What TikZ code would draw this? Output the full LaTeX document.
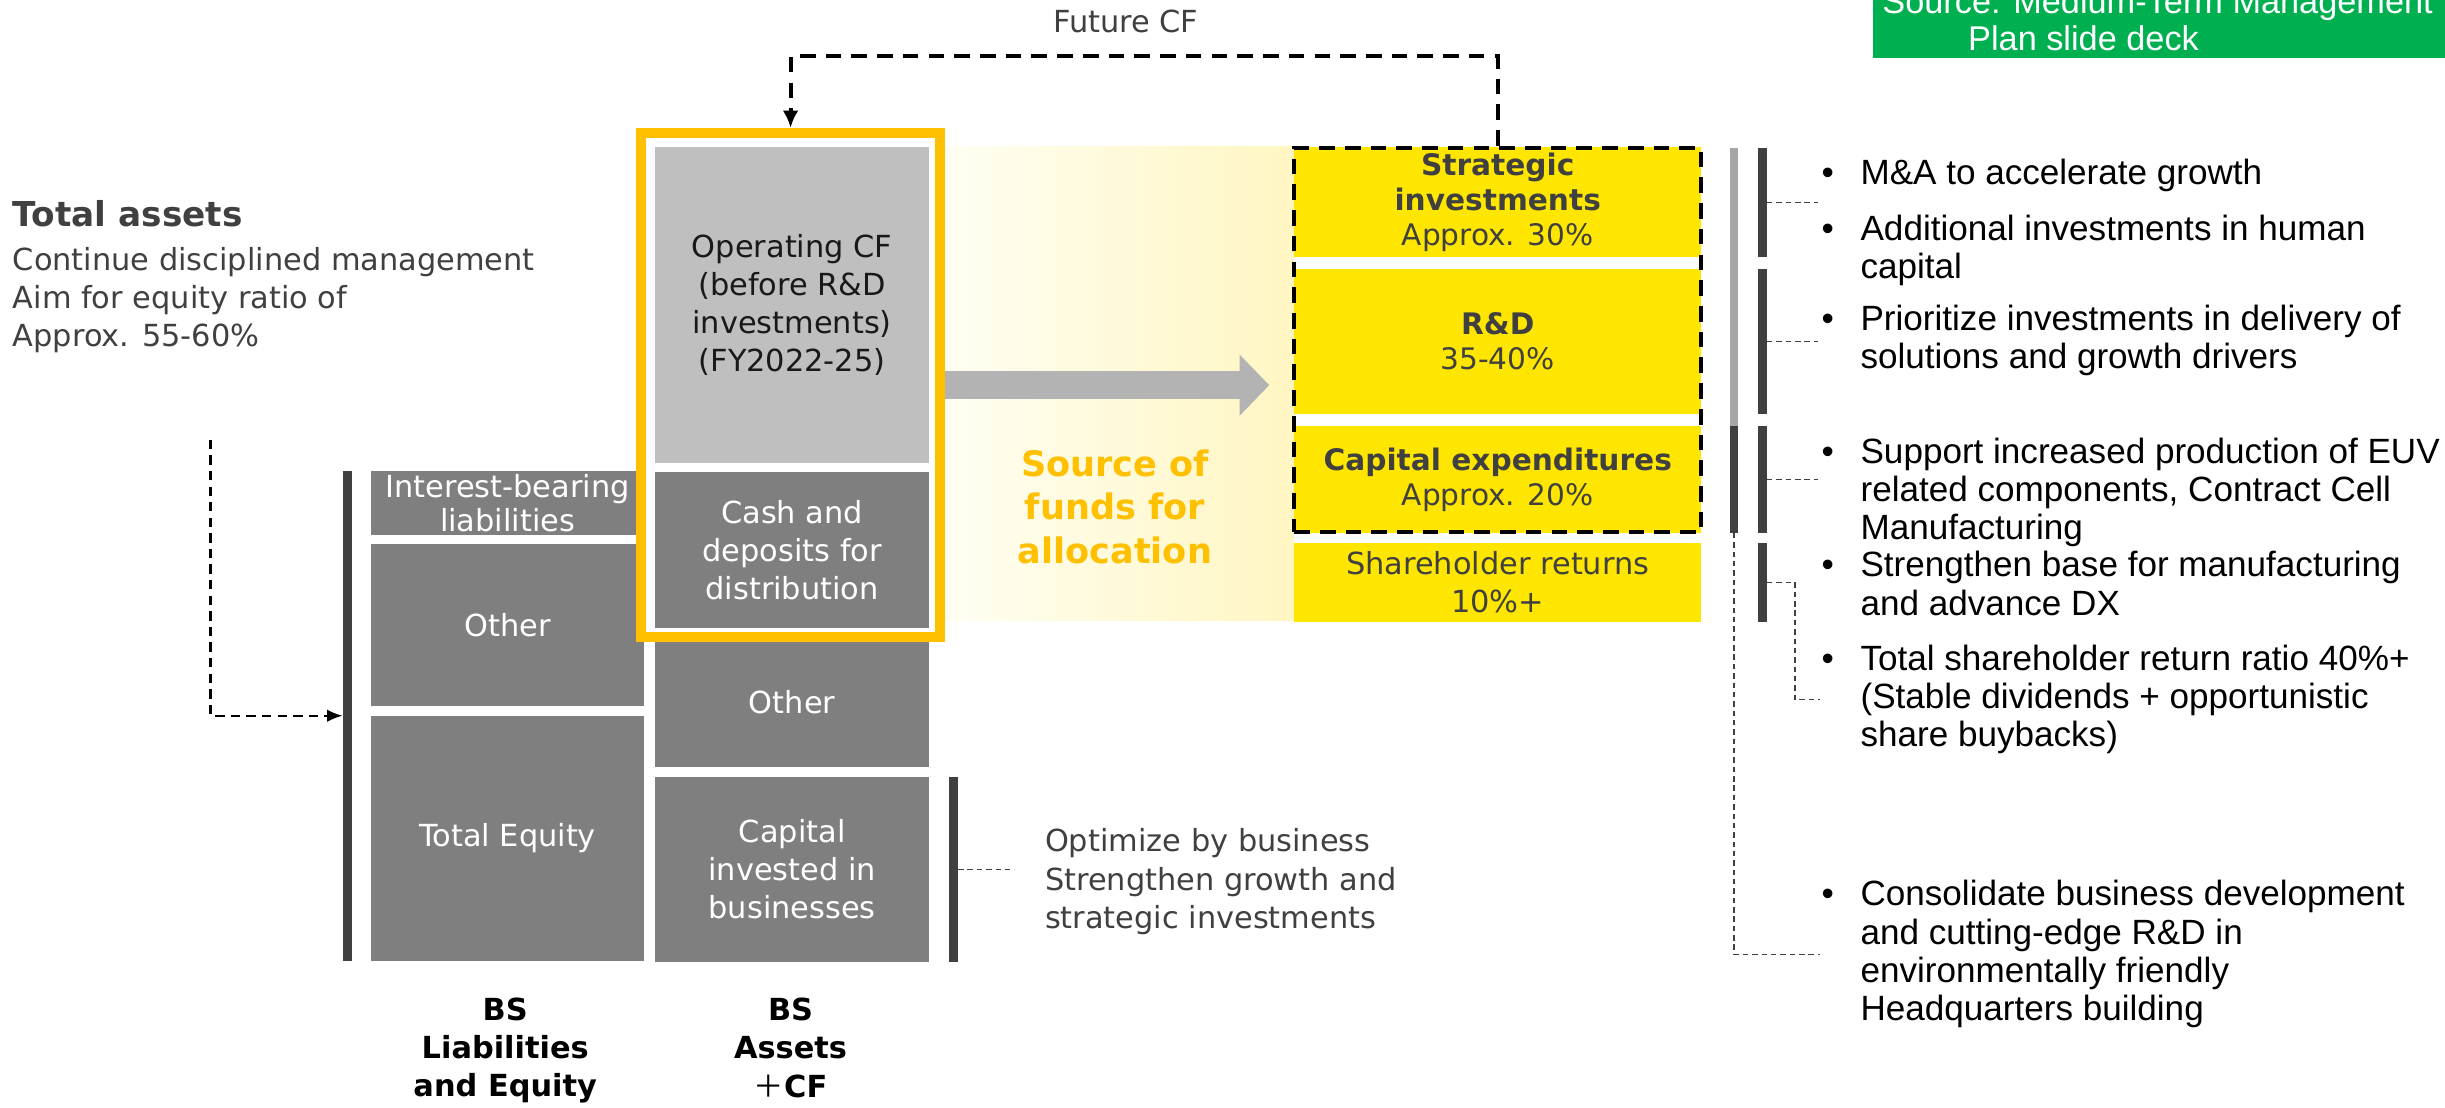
\documentclass[tikz,border=0pt]{standalone}
\usepackage{fontspec}
\setmainfont{DejaVu Sans}
\newfontfamily\narrowfont{Liberation Sans}
\newfontfamily\cjkfont{Noto Sans CJK JP}
\usepackage{xcolor}
\usepackage{tikz}
\usetikzlibrary{positioning,arrows.meta}

\definecolor{boxgray}{HTML}{7F7F7F}
\definecolor{cfgray}{HTML}{BFBFBF}
\definecolor{frameorange}{HTML}{FFC000}
\definecolor{allocyellow}{HTML}{FFE600}
\definecolor{bardark}{HTML}{404040}
\definecolor{barlight}{HTML}{A6A6A6}
\definecolor{arrowgray}{HTML}{B3B3B3}
\definecolor{srcgreen}{HTML}{00B050}
\definecolor{textgray}{HTML}{404040}
\definecolor{glowleft}{HTML}{FFFEF3}
\definecolor{glowright}{HTML}{FFF6C2}

\newcommand{\mainsize}{\fontsize{19.5}{24.5}\selectfont}
\newcommand{\yelsize}{\fontsize{19}{22.5}\selectfont}
\newcommand{\bulsize}{\narrowfont\fontsize{22.5}{24.5}\selectfont}
\newcommand{\bulmark}{\makebox[25pt][l]{\textbullet}}
\newcommand{\bulind}{\hspace*{25pt}}

\begin{document}
\begin{tikzpicture}[x=1pt, y=-1pt,
    graybox/.style={rectangle, fill=boxgray, text=white, inner sep=0pt,
                    minimum width=175pt, align=center, font=\mainsize},
    cfbox/.style={graybox, fill=cfgray, text=black!90},
    yelbox/.style={rectangle, fill=allocyellow, text=textgray, inner sep=0pt,
                   minimum width=261pt, align=center, font=\yelsize},
    vbar/.style={rectangle, fill=bardark, inner sep=0pt, minimum width=5.5pt},
    note/.style={anchor=north west, align=left, inner sep=0pt, text=textgray, font=\mainsize},
    bulitem/.style={anchor=north west, align=left, inner sep=0pt, font=\bulsize},
    lead/.style={draw=textgray, line width=0.9pt, dash pattern=on 3.5pt off 2.5pt},
    cfarr/.style={draw=black, line width=2.6pt, dash pattern=on 10pt off 6.5pt,
                  -{Latex[length=11pt,width=10pt]}},
    dasharr/.style={draw=black, line width=1.5pt, dash pattern=on 6pt off 4pt,
                    -{Latex[length=10pt,width=8pt]}},
    bigarr/.style={draw=arrowgray, line width=18pt, -{Triangle[length=19pt,width=38pt]}}
]
\useasboundingbox (0,0) rectangle (1568,710);
\clip (0,0) rectangle (1568,710);

% Source tag
\fill[srcgreen] (1201,-30) rectangle (1600,37);
\node[anchor=north west, align=left, inner sep=0pt, text=white,
      font=\narrowfont\fontsize{22}{24}\selectfont] (src) at (1207,-7.5)
      {Source: Medium-Term Management\\\hspace*{55pt}Plan slide deck};

% Glow behind the big arrow
\shade[left color=glowleft, right color=glowright] (606,94) rectangle (830,398);

% Total assets
\node[note, font=\bfseries\fontsize{22}{26}\selectfont] (ta) at (8,128.5) {Total assets};
\node[note] (tanote) at (8,158.3)
      {Continue disciplined management\\Aim for equity ratio of\\Approx. 55-60\%};

% BS liabilities and equity
\node[graybox, minimum height=41pt, font=\fontsize{19.5}{22}\selectfont] (ibl) at (325.5,322.5)
      {Interest-bearing\\liabilities};
\node[graybox, minimum height=104pt] (othl) at (325.5,401) {Other};
\node[graybox, minimum height=157pt] (teq) at (325.5,537.5) {Total Equity};
\node[vbar, minimum height=314pt] (lbar) at (222.75,459) {};
\coordinate (tastart) at (135,282);
\draw[dasharr] (tastart) |- (lbar.west);

% BS assets + CF
\node[graybox, minimum width=176pt, minimum height=83pt] (otha) at (508,450.5) {Other};
\node[graybox, minimum width=176pt, minimum height=119pt] (cap) at (508,557.5)
      {Capital\\invested in\\businesses};
\node[vbar, minimum height=119pt] (cbar) at (611.5,557.5) {};
\node[note] (opt) at (670,531.3)
      {Optimize by business\\Strengthen growth and\\strategic investments};
\draw[lead] (cbar.east) -- ++(36,0);

% Source of funds frame
\node[rectangle, draw=frameorange, line width=6.4pt, fill=white, inner sep=0pt,
      minimum width=191.6pt, minimum height=323.6pt] (frame) at (507,247) {};
\node[cfbox, minimum width=176pt, minimum height=203pt] (ocf) at (508,195.5)
      {Operating CF\\(before R\&D\\investments)\\(FY2022-25)};
\node[graybox, minimum width=176pt, minimum height=100pt] (cash) at (508,353)
      {Cash and\\deposits for\\distribution};
\node[align=center, text=frameorange, font=\bfseries\fontsize{22.5}{28}\selectfont] (sof)
      at (715,325) {Source of\\funds for\\allocation};

% Column captions
\node[align=center, font=\bfseries\mainsize] (bsl) at (324,673.5) {BS\\Liabilities\\and Equity};
\node[align=center, font=\bfseries\mainsize] (bsa) at (507,672) {BS\\Assets\\{\cjkfont\mdseries ＋}CF};

% Allocation
\node[yelbox, minimum height=70pt] (sti) at (960.5,129.5)
      {\textbf{Strategic}\\\textbf{investments}\\Approx. 30\%};
\node[yelbox, minimum height=93pt] (rnd) at (960.5,219) {\textbf{R\&D}\\35-40\%};
\node[yelbox, minimum height=68pt] (cpx) at (960.5,307.5) {\textbf{Capital expenditures}\\Approx. 20\%};
\node[yelbox, minimum height=51pt, font=\mainsize] (shr) at (960.5,373.5) {Shareholder returns\\10\%+};
\node[rectangle, draw=black, line width=2.6pt, dash pattern=on 10pt off 6.5pt, inner sep=0pt,
      minimum width=261pt, minimum height=246.5pt] (alloc) at (960.5,218) {};
\draw[bigarr, shorten >=14.7pt] (frame.east) -- (alloc.west |- frame.east);

% Future CF loop
\node[text=textgray, font=\mainsize, inner sep=0pt] (fcf) at (722,14) {Future CF};
\draw[cfarr] (alloc.north) -- ++(0,-57.5) -| (frame.north);

% Bars
\node[vbar, fill=barlight, minimum height=178pt] (gbar) at (1112,184) {};
\node[vbar, minimum height=68.5pt] (gbard) at (1112,307.25) {};
\node[vbar, minimum height=70pt] (b1) at (1130.25,130) {};
\node[vbar, minimum height=93pt] (b2) at (1130.25,219) {};
\node[vbar, minimum height=68pt] (b3) at (1130.25,307.5) {};
\node[vbar, minimum height=51pt] (b4) at (1130.25,373.5) {};

% Measures
\node[bulitem] (m1) at (1168,101.5) {\bulmark M\&A to accelerate growth};
\node[bulitem] (m2) at (1168,137.5) {\bulmark Additional investments in human\\\bulind capital};
\node[bulitem] (m3) at (1168,195.5)
      {\bulmark Prioritize investments in delivery of\\\bulind solutions and growth drivers};
\node[bulitem] (m4) at (1168,280.5)
      {\bulmark Support increased production of EUV\\\bulind related components, Contract Cell\\\bulind Manufacturing};
\node[bulitem] (m5) at (1168,353.5)
      {\bulmark Strengthen base for manufacturing\\\bulind and advance DX};
\node[bulitem] (m6) at (1168,413.5)
      {\bulmark Total shareholder return ratio 40\%+\\\bulind (Stable dividends + opportunistic\\\bulind share buybacks)};
\node[bulitem] (m7) at (1168,564.5)
      {\bulmark Consolidate business development\\\bulind and cutting-edge R\&D in\\\bulind environmentally friendly\\\bulind Headquarters building};

\foreach \b in {b1,b2,b3}
  \draw[lead] (\b.east) -- ++(33,0);
\draw[lead] (b4.east) -- ++(18,0) |- ([xshift=-1pt]m6.west);
\draw[lead] (gbard.south) |- ([xshift=-1pt]m7.west);

\end{tikzpicture}
\end{document}
